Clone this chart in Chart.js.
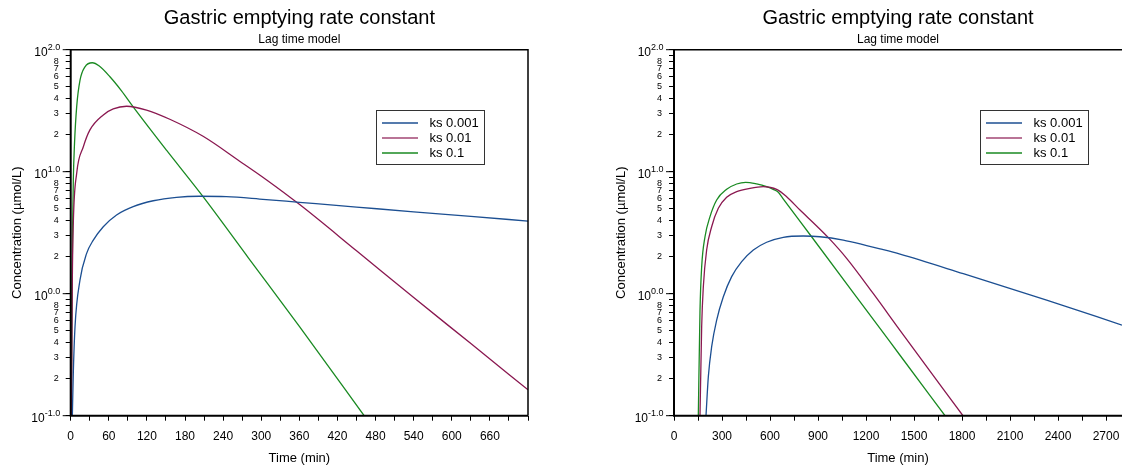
<!DOCTYPE html>
<html>
<head>
<meta charset="utf-8">
<title>Gastric emptying rate constant</title>
<script src="https://cdn.jsdelivr.net/npm/chart.js@4.4.1/dist/chart.umd.min.js"></script>
<style>
  html, body { margin: 0; padding: 0; background: #fff; overflow: hidden; }
  .panel { position: absolute; top: 0; height: 467px; }
  #leftPanel { left: 0; width: 560px; }
  #rightPanel { left: 560px; width: 563px; }
</style>
</head>
<body>
<div class="panel" id="leftPanel"><canvas id="leftChart"></canvas></div>
<div class="panel" id="rightPanel"><canvas id="rightChart"></canvas></div>
<script>
/* globals Chart:false */

// Series labels
const seriesLabels = ['ks 0.001', 'ks 0.01', 'ks 0.1']

// Left panel (time in min, concentration in µmol/L)
const leftTimeKs0001 = [2.6, 4.1, 6.8, 14.6, 25.1, 35.6, 51.3, 72.2, 98.4, 130, 166.5, 203, 245, 297.4, 360, 450, 540, 630, 720]
const leftConcKs0001 = [0.1, 0.223, 0.537, 1.29, 2.14, 2.75, 3.54, 4.42, 5.17, 5.78, 6.17, 6.29, 6.24, 5.97, 5.61, 5.13, 4.69, 4.30, 3.94]
const leftTimeKs001 = [1.3, 2.5, 4.1, 9.4, 19.9, 30.3, 51.3, 67, 88, 119.4, 156, 208.4, 266, 308, 360, 450, 540, 630, 720]
const leftConcKs001 = [0.1, 1.2, 3.78, 9.7, 16, 22, 29.2, 32.7, 34.4, 32, 26.9, 19.5, 12.2, 8.6, 5.4, 2.25, 0.93, 0.39, 0.163]
const leftTimeKs01 = [1.0, 2.0, 3.0, 4.1, 6.0, 9.4, 14.6, 22.5, 34, 45, 61.8, 80, 98.4, 150.8, 208.4, 280, 360.3, 462]
const leftConcKs01 = [0.1, 0.8, 3.5, 8.5, 17, 34, 56, 72.4, 78.2, 73.5, 60, 46, 34, 15, 6.24, 1.96, 0.537, 0.1]

// Right panel
const rightTimeKs0001 = [200, 214.6, 235.4, 266.7, 308.3, 360.4, 423, 495.8, 579, 683, 808, 912.5, 1058, 1204, 1287.5, 1412.5, 1808, 2329, 2800]
const rightConcKs0001 = [0.1, 0.209, 0.368, 0.608, 0.944, 1.38, 1.83, 2.28, 2.64, 2.9, 2.97, 2.93, 2.75, 2.48, 2.33, 2.11, 1.46, 0.887, 0.553]
const rightTimeKs001 = [162.5, 172.9, 183.3, 204, 235.4, 277, 329, 391.7, 475, 558, 641.7, 704, 787.5, 891.7, 964.6, 1079, 1246, 1412.5, 1806]
const rightConcKs001 = [0.1, 0.537, 1.14, 2.28, 3.54, 5.01, 6.17, 6.86, 7.31, 7.54, 7.17, 6.24, 4.85, 3.59, 2.88, 1.95, 1.0, 0.501, 0.1]
const rightTimeKs01 = [152, 162.5, 172.9, 193.75, 225, 266.7, 329, 391.7, 447.9, 516.7, 579, 620, 652, 680, 860, 1287.5, 1412.5, 1694]
const rightConcKs01 = [0.1, 0.73, 1.66, 2.93, 4.28, 5.86, 7.17, 7.93, 8.18, 7.93, 7.54, 7.17, 6.78, 6.05, 2.93, 0.519, 0.313, 0.1]

// Tick labels
const leftXLabels = [0, 60, 120, 180, 240, 300, 360, 420, 480, 540, 600, 660]
const rightXLabels = [0, 300, 600, 900, 1200, 1500, 1800, 2100, 2400, 2700]
const yMantissaLabels = [2, 3, 4, 5, 6, 7, 8]
const yExponents = [-1, 0, 1, 2]

const chartTitle = 'Gastric emptying rate constant'
const chartSubtitle = 'Lag time model'
const xTitle = 'Time (min)'
const yTitle = 'Concentration (µmol/L)'

const fontFamily = '"Liberation Sans", Arial, Helvetica, sans-serif'
const colors = ['#1c4f92', '#8a1850', '#1a8a22']

Chart.defaults.font.family = fontFamily
Chart.defaults.color = '#000'

function toPoints(times, values) {
  return times.map((t, i) => ({ x: t, y: values[i] }))
}

// frame, 10^n labels, legend box and titles
const decorPlugin = {
  id: 'decor',
  afterDraw(chart, args, opts) {
    const { ctx, chartArea: ca } = chart
    const yScale = chart.scales.y
    ctx.save()

    // frame
    ctx.strokeStyle = '#000'
    ctx.lineWidth = 2
    ctx.beginPath()
    ctx.moveTo(ca.left, ca.top)
    ctx.lineTo(ca.left, ca.bottom)
    ctx.lineTo(ca.right, ca.bottom)
    ctx.stroke()
    ctx.lineWidth = 1.5
    ctx.beginPath()
    ctx.moveTo(ca.left, ca.top)
    ctx.lineTo(ca.right, ca.top)
    if (opts.rightEdge) ctx.lineTo(ca.right, ca.bottom)
    ctx.stroke()

    // decade ticks and labels
    ctx.fillStyle = '#000'
    yExponents.forEach(exp => {
      const y = yScale.getPixelForValue(Math.pow(10, exp))
      ctx.lineWidth = 1
      ctx.beginPath()
      ctx.moveTo(ca.left - 8, y)
      ctx.lineTo(ca.left, y)
      ctx.stroke()
      const sup = exp.toFixed(1)
      ctx.font = '9px ' + fontFamily
      const supW = ctx.measureText(sup).width
      const supX = ca.left - 10.5 - supW
      ctx.textAlign = 'left'
      ctx.textBaseline = 'middle'
      ctx.fillText(sup, supX, y - 2)
      ctx.font = '12px ' + fontFamily
      ctx.textAlign = 'right'
      ctx.fillText('10', supX, y + 3)
    })

    // legend
    const lx = Math.round(ca.left + 305.5) + 0.5
    const ly = Math.round(ca.top + 59.8) + 0.5
    const lw = 108
    const lh = 54
    ctx.fillStyle = '#fff'
    ctx.fillRect(lx, ly, lw, lh)
    ctx.strokeStyle = '#333'
    ctx.lineWidth = 1
    ctx.strokeRect(lx, ly, lw, lh)
    ctx.font = '13px ' + fontFamily
    ctx.textAlign = 'left'
    ctx.textBaseline = 'middle'
    chart.data.datasets.forEach((ds, i) => {
      const yy = ly + 12.5 + i * 15
      ctx.strokeStyle = ds.borderColor
      ctx.lineWidth = i === 1 ? 2.2 : 1.3
      ctx.globalAlpha = i === 1 ? 0.6 : 1
      ctx.beginPath()
      ctx.moveTo(lx + 5.5, yy)
      ctx.lineTo(lx + 41.5, yy)
      ctx.stroke()
      ctx.globalAlpha = 1
      ctx.fillStyle = '#000'
      ctx.fillText(ds.label, lx + 53, yy)
    })

    // titles, centred on the plot area
    const cx = (ca.left + ca.right) / 2
    ctx.textAlign = 'center'
    ctx.font = '20px ' + fontFamily
    ctx.fillText(chartTitle, cx, 18)
    ctx.font = '12px ' + fontFamily
    ctx.fillText(chartSubtitle, cx, 40)

    ctx.restore()
  }
}

function makeChart(canvasId, cfg) {
  const yTicks = []
  yExponents.forEach(exp => {
    for (let m = 1; m <= 9; m++) {
      if (exp === 2 && m > 1) break
      yTicks.push({ value: m * Math.pow(10, exp), major: m === 1 })
    }
  })

  return new Chart(document.getElementById(canvasId), {
    type: 'line',
    data: {
      datasets: cfg.series.map((s, i) => ({
        label: seriesLabels[i],
        data: toPoints(s.t, s.c),
        borderColor: colors[i],
        backgroundColor: colors[i],
        borderWidth: 1.3,
        pointRadius: 0,
        fill: false,
        cubicInterpolationMode: 'monotone'
      }))
    },
    options: {
      responsive: true,
      maintainAspectRatio: false,
      animation: false,
      layout: { padding: { top: 49.7, right: cfg.padRight, bottom: 0, left: 0 } },
      plugins: {
        legend: { display: false },
        tooltip: { enabled: false },
        decor: { rightEdge: cfg.rightEdge }
      },
      scales: {
        x: {
          type: 'linear',
          min: 0,
          max: cfg.xMax,
          afterBuildTicks: scale => {
            const ticks = []
            for (let v = 0; v <= cfg.xMax; v += cfg.xMinor) ticks.push({ value: v })
            scale.ticks = ticks
          },
          afterFit: scale => {
            scale.height = 467 - 415.7
            scale.paddingLeft = 0
            scale.paddingRight = 0
          },
          grid: { drawOnChartArea: false, drawTicks: true, tickLength: 5, color: '#000' },
          border: { display: false },
          ticks: {
            autoSkip: false,
            maxRotation: 0,
            padding: 8.5,
            font: { size: 12 },
            callback: v => cfg.xLabels.includes(v) ? String(v) : ''
          },
          title: {
            display: true,
            text: xTitle,
            font: { size: 13 },
            padding: { top: 1.2, bottom: 1.2 }
          }
        },
        y: {
          type: 'logarithmic',
          min: 0.1,
          max: 100,
          afterBuildTicks: scale => { scale.ticks = yTicks.map(t => ({ ...t })) },
          afterFit: scale => { scale.width = cfg.yWidth },
          grid: { drawOnChartArea: false, drawTicks: true, tickLength: 5, color: '#000' },
          border: { display: false },
          ticks: {
            autoSkip: false,
            padding: 7,
            font: { size: 9 },
            callback: v => {
              const m = Math.round(v / Math.pow(10, Math.floor(Math.log10(v) + 1e-9)))
              return yMantissaLabels.includes(m) ? String(m) : ''
            }
          },
          title: {
            display: true,
            text: yTitle,
            font: { size: 13 },
            padding: { top: cfg.yTitlePad, bottom: cfg.yTitlePad }
          }
        }
      }
    },
    plugins: [decorPlugin]
  })
}

makeChart('leftChart', {
  series: [
    { t: leftTimeKs0001, c: leftConcKs0001 },
    { t: leftTimeKs001, c: leftConcKs001 },
    { t: leftTimeKs01, c: leftConcKs01 }
  ],
  xMax: 720,
  xMinor: 30,
  xLabels: leftXLabels,
  yWidth: 70.7,
  yTitlePad: 10,
  padRight: 32,
  rightEdge: true
})

makeChart('rightChart', {
  series: [
    { t: rightTimeKs0001, c: rightConcKs0001 },
    { t: rightTimeKs001, c: rightConcKs001 },
    { t: rightTimeKs01, c: rightConcKs01 }
  ],
  xMax: 2800,
  xMinor: 150,
  xLabels: rightXLabels,
  yWidth: 114,
  yTitlePad: 54,
  padRight: 1,
  rightEdge: false
})
</script>
</body>
</html>
